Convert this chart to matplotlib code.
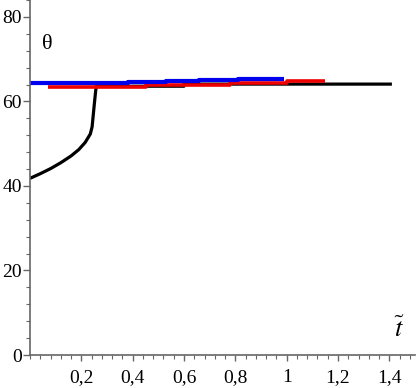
import numpy as np
import matplotlib
matplotlib.use("Agg")
import matplotlib.pyplot as plt
from matplotlib.ticker import MultipleLocator

plt.rcParams['font.family'] = ['Liberation Serif', 'DejaVu Serif']
plt.rcParams['mathtext.fontset'] = 'stix'

# ---------------- data ----------------
# black curve: rising branch then flat
t_black = [0.0, 0.04, 0.08, 0.12, 0.16, 0.19, 0.215, 0.235, 0.242, 0.246, 0.25, 0.255, 0.258, 0.60, 0.60, 1.41]
th_black = [41.8, 42.9, 44.1, 45.5, 47.1, 48.6, 50.3, 52.3, 54.0, 56.5, 59.0, 62.0, 63.6, 63.6, 64.1, 64.1]

# red step line
t_red = [0.07, 0.45, 0.78, 1.00, 1.15]
th_red = [63.5, 63.9, 64.3, 64.9, 64.9]

# blue step line
t_blue = [0.0, 0.38, 0.53, 0.66, 0.81, 0.99]
th_blue = [64.4, 64.7, 64.9, 65.15, 65.35, 65.35]

x_ticks = [0.2, 0.4, 0.6, 0.8, 1.0, 1.2, 1.4]
x_labels = ['0,2', '0,4', '0,6', '0,8', '1', '1,2', '1,4']
y_ticks = [0, 20, 40, 60, 80]
y_labels = ['0', '20', '40', '60', '80']

# ---------------- figure ----------------
fig = plt.figure(figsize=(4.17, 3.88), dpi=100)
ax = fig.add_axes([30 / 417, 33 / 388, 385 / 417, 355 / 388])

ax.plot(t_black, th_black, color='black', lw=2.3, solid_capstyle='butt')
ax.plot(t_red, th_red, color='#ee0000', lw=2.6, drawstyle='steps-post', solid_capstyle='butt')
ax.plot(t_blue, th_blue, color='#0000ee', lw=3.0, drawstyle='steps-post', solid_capstyle='butt')

ax.set_xlim(0, 1.5)
ax.set_ylim(0, 84)

for s in ['top', 'right']:
    ax.spines[s].set_visible(False)
for s in ['left', 'bottom']:
    ax.spines[s].set_color('#666666')
    ax.spines[s].set_linewidth(1.2)

ax.set_xticks(x_ticks)
ax.set_xticklabels(x_labels)
ax.set_yticks(y_ticks)
ax.set_yticklabels(y_labels)
ax.xaxis.set_minor_locator(MultipleLocator(0.04))
ax.yaxis.set_minor_locator(MultipleLocator(4))

ax.tick_params(axis='x', which='major', length=4, width=1, color='#666666', labelsize=14, pad=6)
ax.tick_params(axis='x', which='minor', length=3, width=0.8, color='#666666')
ax.tick_params(axis='y', which='major', length=5, width=1, color='#666666', labelsize=14, pad=1)
ax.tick_params(axis='y', which='minor', length=3, width=0.8, color='#666666')

ax.text(0.066, 73.5, 'θ', fontsize=16, ha='center', va='center')
ax.text(1.44, 6.0, r'$\tilde{t}$', fontsize=19, ha='center', va='center')

fig.savefig('out.png', dpi=100)
